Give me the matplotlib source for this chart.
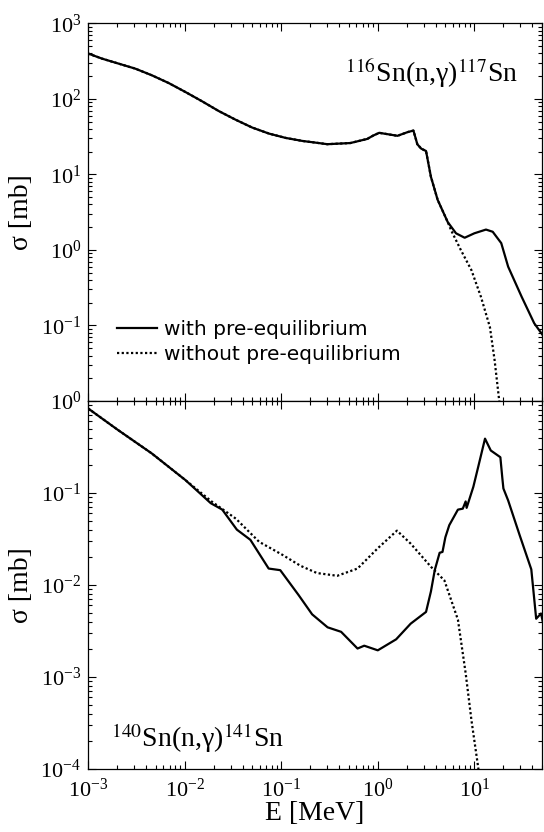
import matplotlib
matplotlib.use('Agg')
import matplotlib.pyplot as plt

plt.rcParams['font.family'] = ['Liberation Serif', 'DejaVu Serif']
plt.rcParams['mathtext.fontset'] = 'stix'

# 116Sn(n,g)117Sn, energies in MeV, cross sections in mb
e_116_pe = [0.001, 0.00139, 0.00206, 0.00308, 0.00457, 0.00682, 0.0102, 0.0151,
            0.0225, 0.0336, 0.050, 0.0745, 0.111, 0.166, 0.228, 0.30, 0.52,
            0.78, 0.89, 1.035, 1.60, 2.04, 2.34, 2.57, 2.82, 3.16, 3.55, 4.17, 5.3,
            6.46, 7.94, 10.0, 13.2, 15.5, 19.0, 22.4, 30.9, 41.7, 52.5]
s_116_pe = [398, 341, 293, 251, 205, 162, 123, 93,
            69, 53, 41.7, 34.7, 30.4, 27.7, 26.3, 25.1, 26,
            29.5, 32.5, 35.5, 32.4, 36.3, 38, 25, 21.9, 20.4, 9.3, 4.6, 2.34,
            1.66, 1.45, 1.66, 1.86, 1.74, 1.23, 0.60, 0.24, 0.107, 0.071]
e_116_nope = [0.001, 0.00139, 0.00206, 0.00308, 0.00457, 0.00682, 0.0102, 0.0151,
              0.0225, 0.0336, 0.050, 0.0745, 0.111, 0.166, 0.228, 0.30, 0.52,
              0.78, 0.89, 1.035, 1.60, 2.04, 2.34, 2.57, 2.82, 3.16, 3.55, 4.17, 5.3,
              5.75, 7.24, 9.33, 11.7, 14.5, 16.2, 18.2]
s_116_nope = [398, 341, 293, 251, 205, 162, 123, 93,
              69, 53, 41.7, 34.7, 30.4, 27.7, 26.3, 25.1, 26,
              29.5, 32.5, 35.5, 32.4, 36.3, 38, 25, 21.9, 20.4, 9.3, 4.6, 2.34,
              1.82, 1.0, 0.54, 0.24, 0.095, 0.035, 0.0095]

# 140Sn(n,g)141Sn
e_140_pe = [0.001, 0.00204, 0.00457, 0.0102, 0.0186, 0.0245, 0.0347, 0.0479, 0.0741,
            0.0977, 0.151, 0.209, 0.302, 0.417, 0.617, 0.724, 1.0, 1.55, 2.19, 3.16,
            3.55, 3.89, 4.37, 4.68, 5.01, 5.5, 6.76, 7.59, 8.13, 8.32, 9.77, 11.0,
            12.9, 14.8, 18.6, 19.5, 20.0, 22.4, 29.5, 38.9, 43.7, 49.0, 52.5]
s_140_pe = [0.83, 0.484, 0.269, 0.138, 0.0776, 0.066, 0.040, 0.031, 0.0151,
            0.0145, 0.0078, 0.0048, 0.00347, 0.0031, 0.00204, 0.00219, 0.00195,
            0.00257, 0.0038, 0.0051, 0.0085, 0.0145, 0.0224, 0.0229, 0.033, 0.0447,
            0.066, 0.0676, 0.081, 0.069, 0.117, 0.195, 0.39, 0.29, 0.245, 0.145,
            0.112, 0.083, 0.0347, 0.0148, 0.0043, 0.0049, 0.00355]
e_140_nope = [0.001, 0.00204, 0.00457, 0.0102, 0.019, 0.034, 0.059, 0.102, 0.158,
              0.234, 0.38, 0.617, 1.0, 1.58, 2.19, 3.55, 4.9, 6.76, 8.13, 9.33, 11.2]
s_140_nope = [0.83, 0.484, 0.269, 0.138, 0.081, 0.0525, 0.0295, 0.0214, 0.0162,
              0.0135, 0.0126, 0.0151, 0.0251, 0.039, 0.0282, 0.0158, 0.0112, 0.0042,
              0.0011, 0.00034, 0.000089]

fig = plt.figure(figsize=(5.44, 8.32), dpi=100)
ax1 = fig.add_axes([0.162, 0.518, 0.834, 0.454])
ax2 = fig.add_axes([0.162, 0.0757, 0.834, 0.4423], sharex=ax1)

dot = (0, (1, 1.1))
ax1.plot(e_116_pe, s_116_pe, color='black', lw=1.6, label='with pre-equilibrium')
ax1.plot(e_116_nope, s_116_nope, color='black', lw=1.6, ls=dot,
         label='without pre-equilibrium')
ax2.plot(e_140_pe, s_140_pe, color='black', lw=1.6)
ax2.plot(e_140_nope, s_140_nope, color='black', lw=1.6, ls=dot)

for ax in (ax1, ax2):
    ax.set_xscale('log')
    ax.set_yscale('log')
    ax.tick_params(which='both', direction='in', top=True, right=True,
                   labelsize=16, width=0.8, pad=5)
    ax.tick_params(which='major', length=6)
    ax.tick_params(which='minor', length=3)
    for sp in ax.spines.values():
        sp.set_linewidth(0.9)
    ax.set_ylabel('σ [mb]', fontsize=20, labelpad=5)

ax1.set_xlim(1e-3, 50)
ax1.set_ylim(1e-2, 1e3)
ax1.set_yticks([1e-1, 1, 10, 100, 1000])
ax1.tick_params(labelbottom=False)
ax2.set_ylim(1e-4, 1)
ax2.set_yticks([1e-4, 1e-3, 1e-2, 1e-1, 1])
ax2.tick_params(axis='x', pad=7)
ax2.set_xlabel('E [MeV]', fontsize=20, labelpad=-1)

ax1.text(0.947, 0.844, r'$^{116}$Sn(n,γ)$^{117}$Sn', transform=ax1.transAxes,
         ha='right', va='baseline', fontsize=20)
ax2.text(0.05, 0.06, r'$^{140}$Sn(n,γ)$^{141}$Sn', transform=ax2.transAxes,
         ha='left', va='baseline', fontsize=20)

ax1.legend(loc='upper left', bbox_to_anchor=(0.064, 0.214), frameon=False,
           prop={'family': 'DejaVu Sans', 'size': 14.5}, handlelength=2.0,
           handletextpad=0.35, labelspacing=0.3, borderpad=0, borderaxespad=0)

fig.savefig('out.png', dpi=100)
